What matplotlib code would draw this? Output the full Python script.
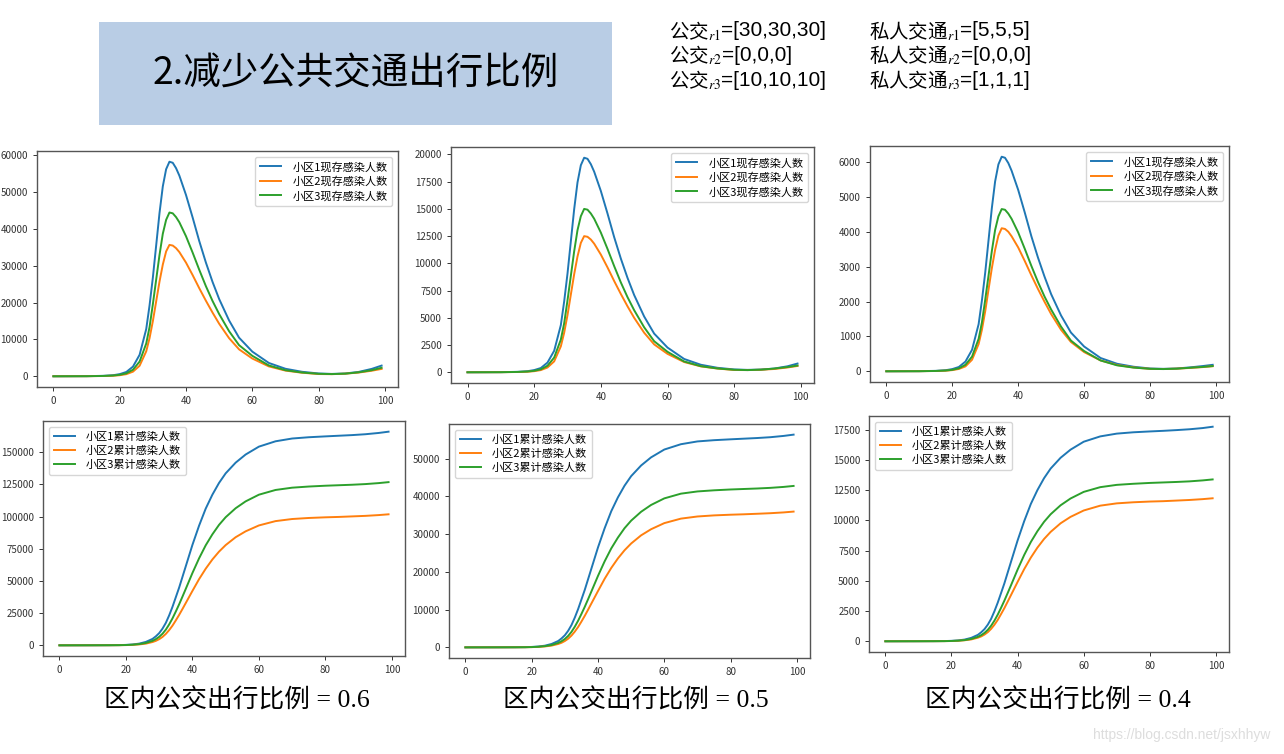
import numpy as np
import matplotlib
matplotlib.use('Agg')
import matplotlib.pyplot as plt
from matplotlib.patches import Rectangle

plt.rcParams['font.family'] = ['Noto Sans CJK SC', 'DejaVu Sans']
plt.rcParams['axes.unicode_minus'] = False
plt.rcParams['mathtext.fontset'] = 'stix'

# ---- data ----
days = [0, 10, 15, 18, 20, 22, 24, 26, 28, 29, 30, 31, 32, 33, 34, 35, 36, 37, 38,
        40, 42, 44, 46, 48, 50, 53, 56, 60, 65, 70, 75, 80, 84, 88, 92, 96, 99]

# current infected (top row), ratio 0.6 / 0.5 / 0.4
cur_06_r1 = [0, 30, 120, 290, 580, 1170, 2620, 5830, 12830, 19240, 26820, 35560, 44310, 51600, 56260, 58300,
             58010, 56550, 54510, 49260, 43140, 36730, 30900, 25650, 20990, 15160, 10490, 6700, 3610, 2040,
             1220, 760, 640, 760, 1170, 2000, 2900]
cur_06_r2 = [0, 18, 71, 143, 286, 571, 1250, 2860, 6780, 10350, 14990, 20350, 25700, 30350, 33920, 35700,
             35520, 34810, 33740, 30880, 27490, 23920, 20530, 17310, 14280, 10350, 7320, 4820, 2680, 1540,
             960, 610, 570, 710, 1000, 1500, 2000]
cur_06_r3 = [0, 22, 89, 200, 400, 800, 1780, 4000, 8900, 13350, 19580, 26260, 32930, 38720, 42500, 44500,
             44280, 43250, 41830, 38050, 33600, 28930, 24480, 20470, 16910, 12240, 8460, 5560, 2940, 1650,
             1020, 670, 600, 710, 1070, 1650, 2310]

cur_05_r1 = [0, 10, 40, 100, 200, 390, 890, 1970, 4330, 6500, 9060, 12020, 14970, 17430, 19010, 19700,
             19600, 19110, 18420, 16650, 14580, 12410, 10440, 8670, 7090, 5120, 3550, 2270, 1220, 690,
             410, 260, 220, 250, 340, 550, 800]
cur_05_r2 = [0, 6, 25, 50, 100, 200, 440, 1000, 2380, 3630, 5250, 7130, 9000, 10630, 11880, 12500,
             12440, 12190, 11810, 10810, 9630, 8380, 7190, 6060, 5000, 3630, 2560, 1690, 940, 540,
             340, 210, 200, 230, 300, 440, 580]
cur_05_r3 = [0, 8, 30, 68, 135, 270, 600, 1350, 3000, 4500, 6600, 8850, 11100, 13050, 14330, 15000,
             14930, 14580, 14100, 12830, 11330, 9750, 8250, 6900, 5700, 4130, 2850, 1880, 990, 560,
             350, 230, 200, 240, 340, 480, 620]

cur_04_r1 = [0, 3, 12, 31, 62, 123, 277, 615, 1350, 2030, 2830, 3750, 4670, 5440, 5930, 6150,
             6120, 5970, 5750, 5200, 4550, 3870, 3260, 2710, 2210, 1600, 1110, 710, 380, 215,
             130, 80, 70, 80, 110, 150, 185]
cur_04_r2 = [0, 2, 8, 16, 33, 66, 140, 330, 780, 1190, 1720, 2340, 2950, 3480, 3890, 4100,
             4080, 4000, 3870, 3550, 3160, 2750, 2360, 1990, 1640, 1190, 840, 550, 310, 180,
             110, 70, 65, 75, 95, 120, 145]
cur_04_r3 = [0, 2, 9, 21, 42, 84, 186, 420, 930, 1400, 2050, 2740, 3440, 4050, 4440, 4650,
             4630, 4520, 4370, 3980, 3510, 3020, 2560, 2140, 1770, 1280, 880, 580, 310, 170,
             105, 70, 63, 74, 100, 125, 150]

# cumulative infected (bottom row)
cum_06_r1 = [0, 50, 100, 170, 330, 660, 1330, 2660, 4980, 6970, 9460, 12950, 17430, 23240, 29880, 37350,
             44820, 53120, 61420, 78020, 92960, 106240, 117030, 126160, 133630, 141930, 148240, 154380,
             158530, 160690, 161680, 162350, 162850, 163340, 164010, 165000, 166000]
cum_06_r2 = [0, 30, 60, 100, 180, 360, 710, 1320, 2550, 3460, 4780, 6520, 8860, 11810, 15270, 19340,
             23620, 28200, 32880, 42250, 51410, 59550, 66680, 72790, 77880, 83990, 88570, 93150,
             96510, 98140, 98950, 99460, 99760, 100170, 100580, 101190, 101800]
cum_06_r3 = [0, 40, 80, 130, 240, 470, 950, 1840, 3490, 4820, 6590, 9000, 12170, 16230, 20920, 26250,
             31830, 37790, 43870, 56170, 67580, 77730, 86220, 93580, 99540, 106510, 111840, 117040,
             120710, 122490, 123380, 124010, 124390, 124770, 125280, 126040, 126800]

cum_05_r1 = [0, 17, 34, 56, 113, 226, 451, 902, 1690, 2370, 3210, 4400, 5920, 7900, 10150, 12690,
             15230, 18050, 20870, 26510, 31580, 36100, 39760, 42860, 45400, 48220, 50370, 52450,
             53860, 54600, 54930, 55160, 55330, 55500, 55720, 56060, 56400]
cum_05_r2 = [0, 11, 22, 36, 65, 126, 252, 468, 900, 1220, 1690, 2300, 3130, 4180, 5400, 6840,
             8350, 9970, 11630, 14940, 18180, 21060, 23580, 25740, 27540, 29700, 31320, 32940,
             34130, 34700, 34990, 35170, 35280, 35420, 35570, 35780, 36000]
cum_05_r3 = [0, 13, 26, 43, 81, 158, 321, 621, 1180, 1630, 2230, 3040, 4110, 5480, 7060, 8860,
             10740, 12750, 14810, 18960, 22810, 26240, 29100, 31590, 33600, 35950, 37750, 39500,
             40750, 41340, 41640, 41860, 41990, 42120, 42290, 42540, 42800]

cum_04_r1 = [0, 5, 11, 18, 36, 71, 142, 284, 533, 746, 1010, 1380, 1860, 2490, 3200, 3990,
             4790, 5680, 6570, 8340, 9940, 11360, 12510, 13490, 14290, 15180, 15850, 16510,
             16950, 17180, 17290, 17360, 17410, 17470, 17540, 17640, 17750]
cum_04_r2 = [0, 4, 7, 12, 21, 41, 83, 154, 296, 402, 556, 757, 1030, 1370, 1770, 2250,
             2740, 3280, 3820, 4910, 5970, 6920, 7750, 8460, 9050, 9760, 10290, 10820,
             11220, 11410, 11500, 11560, 11590, 11640, 11690, 11760, 11830]
cum_04_r3 = [0, 4, 8, 13, 25, 50, 100, 194, 368, 509, 696, 951, 1290, 1710, 2210, 2770,
             3360, 3990, 4630, 5930, 7140, 8210, 9110, 9880, 10510, 11250, 11810, 12360,
             12750, 12940, 13030, 13100, 13140, 13180, 13230, 13310, 13390]

cur_labels = ['小区1现存感染人数', '小区2现存感染人数', '小区3现存感染人数']
cum_labels = ['小区1累计感染人数', '小区2累计感染人数', '小区3累计感染人数']
captions = ['区内公交出行比例 = 0.6', '区内公交出行比例 = 0.5', '区内公交出行比例 = 0.4']
title = '2.减少公共交通出行比例'
bus_names = ['公交$_{r1}$', '公交$_{r2}$', '公交$_{r3}$']
bus_values = ['=[30,30,30]', '=[0,0,0]', '=[10,10,10]']
car_names = ['私人交通$_{r1}$', '私人交通$_{r2}$', '私人交通$_{r3}$']
car_values = ['=[5,5,5]', '=[0,0,0]', '=[1,1,1]']

top_series = [(cur_06_r1, cur_06_r2, cur_06_r3),
              (cur_05_r1, cur_05_r2, cur_05_r3),
              (cur_04_r1, cur_04_r2, cur_04_r3)]
bot_series = [(cum_06_r1, cum_06_r2, cum_06_r3),
              (cum_05_r1, cum_05_r2, cum_05_r3),
              (cum_04_r1, cum_04_r2, cum_04_r3)]

W, H = 1284, 754
fig = plt.figure(figsize=(W / 100, H / 100), dpi=100)


def px_axes(left, top, right, bottom):
    # axes box given in picture pixels
    return fig.add_axes([left / W, 1 - bottom / H, (right - left) / W, (bottom - top) / H])


# axes boxes in pixels (left, top, right, bottom)
top_boxes = [(37, 151, 398, 387), (451, 147, 814, 383), (870, 146, 1229, 382)]
bot_boxes = [(43, 421, 405, 656), (449, 424, 810, 658), (869, 416, 1229, 652)]
colors = ['#1f77b4', '#ff7f0e', '#2ca02c']


def style(ax):
    ax.tick_params(labelsize=7, length=3, width=0.7, colors='#333333')
    for s in ax.spines.values():
        s.set_color('#555555')
        s.set_linewidth(1.0)
    ax.set_xticks([0, 20, 40, 60, 80, 100])


leg_kw = dict(fontsize=8, handlelength=1.9, handletextpad=1.0, borderpad=0.45, labelspacing=0.35)
for i in range(3):
    ax = px_axes(*top_boxes[i])
    for ys, lab, c in zip(top_series[i], cur_labels, colors):
        ax.plot(days, ys, color=c, lw=1.4, label=lab)
    style(ax)
    ax.legend(loc='upper right', **leg_kw)

    ax = px_axes(*bot_boxes[i])
    for ys, lab, c in zip(bot_series[i], cum_labels, colors):
        ax.plot(days, ys, color=c, lw=1.4, label=lab)
    style(ax)
    ax.legend(loc='upper left', **leg_kw)

# title box
fig.patches.append(Rectangle((99 / W, 1 - 125 / H), (612 - 99) / W, 103 / H,
                             transform=fig.transFigure, facecolor='#b9cde5', edgecolor='none', zorder=0))
fig.text(356 / W, 1 - 74 / H, title, fontsize=27, ha='center', va='center')

# parameter text: name with subscript, then the values in a latin font right after it
renderer = fig.canvas.get_renderer()
for k in range(3):
    y = 1 - (31 + 24.5 * k) / H
    for x0, name, val in [(669, bus_names[k], bus_values[k]), (869, car_names[k], car_values[k])]:
        t = fig.text(x0 / W, y, name, fontsize=14, ha='left', va='center')
        bb = t.get_window_extent(renderer)
        fig.text(bb.x1 / W, y, val, fontsize=15, ha='left', va='center', family=['Liberation Sans'])

# captions under each column
for cx, cap in zip([237, 636, 1058], captions):
    fig.text(cx / W, 1 - 700 / H, cap, fontsize=18.5, ha='center', va='center',
             family=['Liberation Serif', 'Noto Sans CJK SC'])

fig.text(1270 / W, 1 - 735 / H, 'https://blog.csdn.net/jsxhhyw', fontsize=10,
         color='#dddddd', ha='right', va='center', family=['Liberation Sans'])

fig.savefig('out.png', dpi=100)
